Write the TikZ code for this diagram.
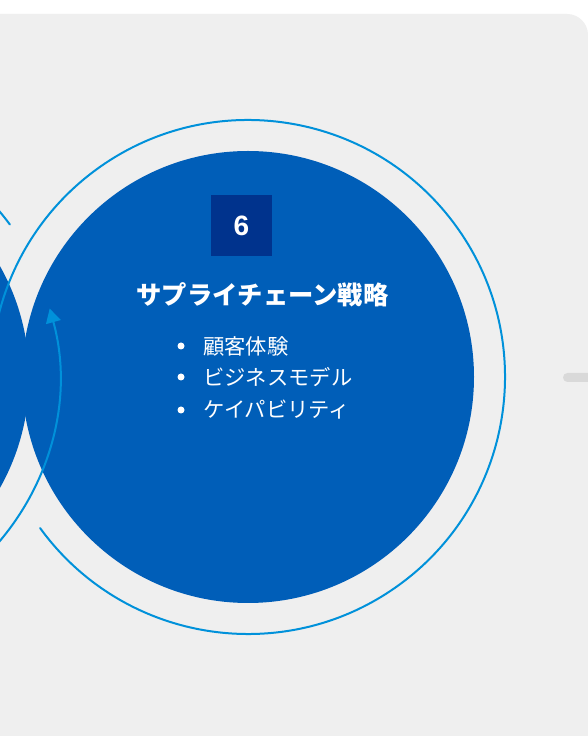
\documentclass[tikz,border=0pt]{standalone}
\usepackage{fontspec}
\setmainfont{Liberation Sans}
\newfontfamily\jp{Noto Sans CJK JP}
\usetikzlibrary{arrows.meta}
\definecolor{bggray}{HTML}{EFEFEF}
\definecolor{bargray}{HTML}{D9D9D9}
\definecolor{midblue}{HTML}{005EB8}
\definecolor{darkblue}{HTML}{00338D}
\definecolor{lightblue}{HTML}{0091DA}
\tikzset{
  fillcirc/.style={circle, fill=midblue, minimum size=452pt, inner sep=0pt},
  ring/.style={draw=lightblue, line width=2pt, line cap=round},
  numbox/.style={fill=darkblue, minimum size=61pt, inner sep=0pt, text=white, font=\fontsize{28}{32}\selectfont\bfseries},
  title/.style={text=white, font=\jp\fontsize{25.3}{30}\selectfont\bfseries, inner sep=0pt},
  item/.style={text=white, font=\jp\fontsize{21.3}{24}\selectfont, inner sep=0pt, anchor=west},
  dot/.style={circle, fill=white, minimum size=7pt, inner sep=0pt}
}
\begin{document}
\begin{tikzpicture}[x=1pt,y=1pt]
\useasboundingbox (0,0) rectangle (588,736);
\clip (0,0) rectangle (588,736);
\fill[white] (0,0) rectangle (588,736);
\fill[bggray, rounded corners=21pt] (-40,-40) rectangle (588,722);
% gray bar
\fill[bargray, rounded corners=4.5pt] (563,354) rectangle (620,363);
% centers
\coordinate (c5) at (-197,359);
\coordinate (c6) at (248,359);
% fills
\node[fillcirc] (f5) at (c5) {};
\node[fillcirc] (f6) at (c6) {};
% rings
\draw[ring] (c6) ++(216:257) arc[start angle=216, end angle=548, radius=257];
\draw[ring] (c5) ++(36.4:257) arc[start angle=36.4, end angle=90, radius=257];
\draw[ring, -{Triangle[length=14pt, width=15pt]}] (c5) ++(-60:256) arc[start angle=-60, end angle=15.5, radius=256];
% content
\node[numbox] (num) at (241.5,510.5) {6};
\node[title] (ttl) at (262.5,441) {サプライチェーン戦略};
\node[dot] (d1) at (181,390) {};
\node[dot] (d2) at (181,359) {};
\node[dot] (d3) at (181,326) {};
\node[item] (i1) at (203,390) {顧客体験};
\node[item] (i2) at (203,359) {ビジネスモデル};
\node[item] (i3) at (203,326) {ケイパビリティ};
\end{tikzpicture}
\end{document}
